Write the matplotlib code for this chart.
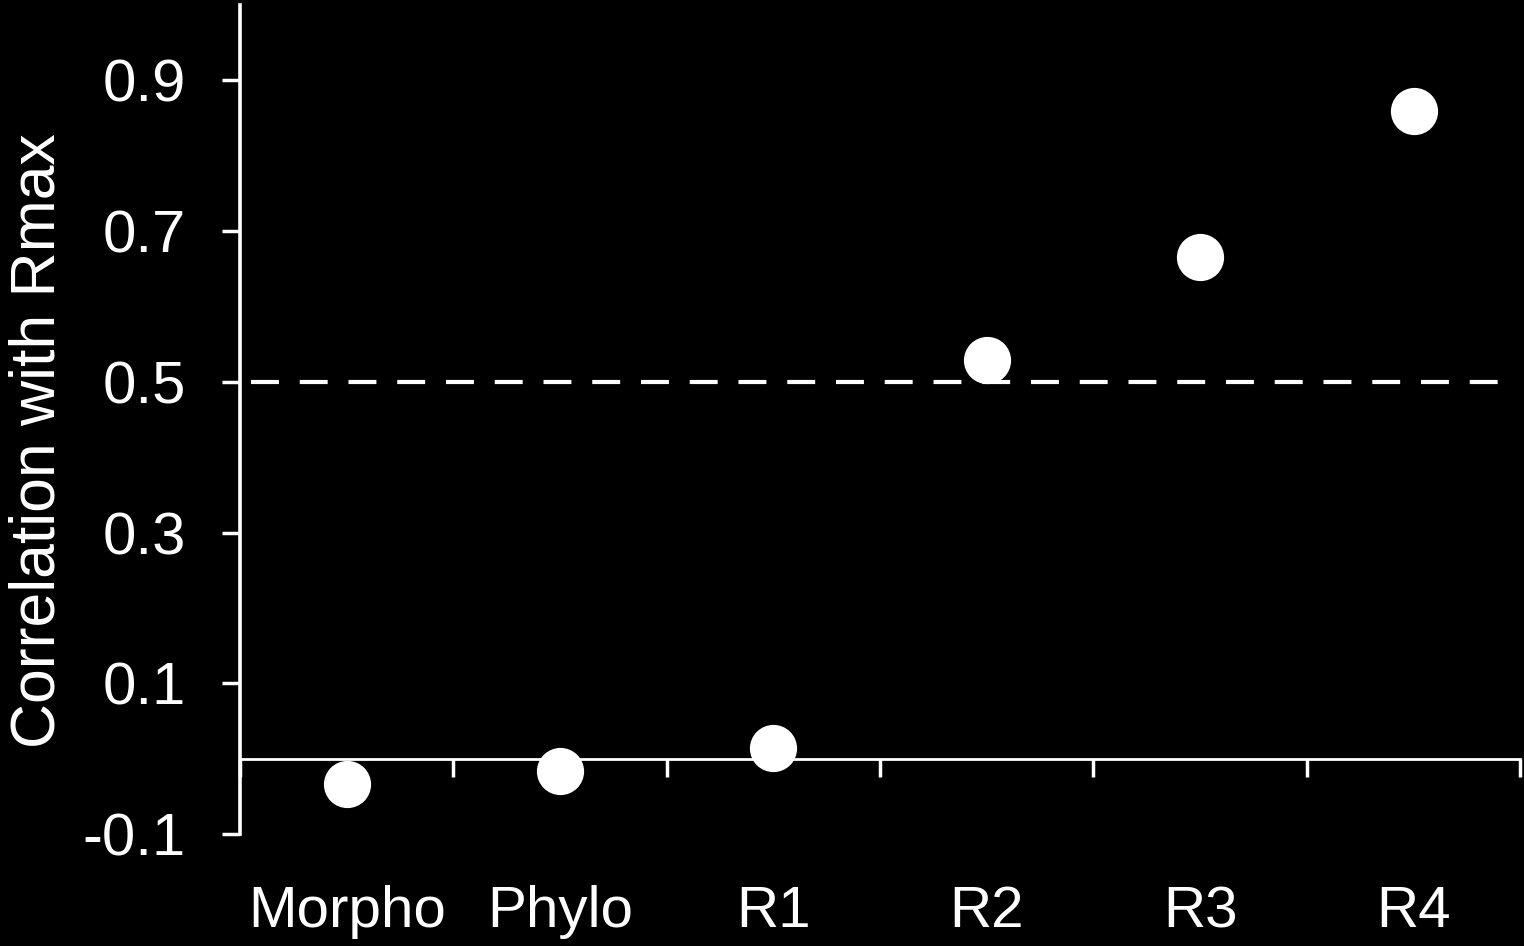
import numpy as np
import matplotlib
matplotlib.use('Agg')
import matplotlib.pyplot as plt

plt.rcParams['font.family'] = ['Liberation Sans', 'DejaVu Sans']
plt.rcParams['axes.unicode_minus'] = False

categories = ['Morpho', 'Phylo', 'R1', 'R2', 'R3', 'R4']
corr = [-0.034, -0.016, 0.014, 0.529, 0.666, 0.860]   # correlation with Rmax
threshold = 0.5
yticks = [-0.1, 0.1, 0.3, 0.5, 0.7, 0.9]

fig = plt.figure(figsize=(15.24, 9.46), dpi=100, facecolor='black')
ax = fig.add_axes([0.1575, 0.1184, 0.84, 0.8763], facecolor='black')

x = np.arange(len(categories))
ax.plot(x, corr, 'o', color='white', markersize=34, markeredgewidth=0, zorder=3)

# dashed threshold line
ln, = ax.plot([-0.45, 5.4], [threshold, threshold], color='white', lw=3)
ln.set_dashes([6.7, 5])

ax.set_xlim(-0.5, 5.5)
ax.set_ylim(-0.1, 1.0)

for s in ['top', 'right']:
    ax.spines[s].set_visible(False)
ax.spines['left'].set_color('white')
ax.spines['left'].set_linewidth(2.6)
ax.spines['bottom'].set_color('white')
ax.spines['bottom'].set_linewidth(2)
ax.spines['bottom'].set_position(('data', 0))

ax.set_yticks(yticks)
ax.set_yticklabels([f'{v:.1f}' for v in yticks])
ax.tick_params(axis='y', colors='white', labelsize=43, length=13, width=2.5,
               pad=26, direction='out')

# boundary ticks on the zero line, labels at category centres
ax.set_xticks(np.arange(-0.5, 6, 1.0))
ax.set_xticklabels([])
ax.set_xticks(x, minor=True)
ax.set_xticklabels(categories, minor=True)
ax.tick_params(axis='x', which='major', colors='white', length=13, width=2.5,
               direction='out')
ax.tick_params(axis='x', which='minor', colors='white', length=0,
               labelsize=42, pad=91)

ax.set_ylabel('Correlation with Rmax', color='white', fontsize=45)
ax.yaxis.set_label_coords(-0.135, 0.475)

fig.savefig('out.png', dpi=100, facecolor='black')
